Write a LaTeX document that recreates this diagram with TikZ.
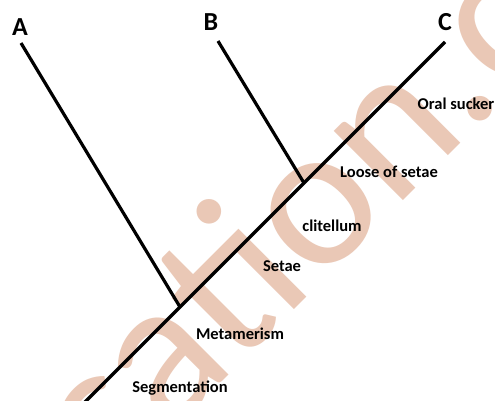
\documentclass[tikz,border=0pt]{standalone}
\usepackage{fontspec}
\setmainfont{Carlito}
\definecolor{wm}{RGB}{234,200,182}
\tikzset{
  branch/.style={line width=3.2pt},
  tip/.style={font=\bfseries\fontsize{26}{30}\selectfont, inner sep=0pt},
  trait/.style={font=\bfseries\fontsize{16.5}{19}\selectfont, inner sep=0pt, text=black},
  wmtext/.style={font=\fontsize{205}{240}\selectfont, text=wm, inner sep=0pt, rotate=45, anchor=base west}
}
\begin{document}
\begin{tikzpicture}[x=1pt,y=-1pt]
\useasboundingbox (0,0) rectangle (495,400);
\clip (0,0) rectangle (495,400);
\fill[white] (0,0) rectangle (495,400);
% watermark
\node[wmtext] (wmark) at (108,496) {cation.c};
% tips
\node[tip] (A) at (20,27) {A};
\node[tip] (B) at (211,22) {B};
\node[tip] (C) at (445,22) {C};
\coordinate (atop) at (21,43);
\coordinate (btop) at (218,41);
\coordinate (ctop) at (445,42);
\coordinate (ja) at (180,307);
\coordinate (jb) at (304,183);
\coordinate (root) at (80,407);
\draw[branch] (root) -- (ctop);
\draw[branch] (atop) -- (ja);
\draw[branch] (btop) -- (jb);
% traits
\node[trait] (t1) at (456,104) {Oral sucker};
\node[trait] (t2) at (389,172) {Loose of setae};
\node[trait] (t3) at (332,226) {clitellum};
\node[trait] (t4) at (282,266) {Setae};
\node[trait] (t5) at (240,334) {Metamerism};
\node[trait] (t6) at (180,388) {Segmentation};
\end{tikzpicture}
\end{document}
